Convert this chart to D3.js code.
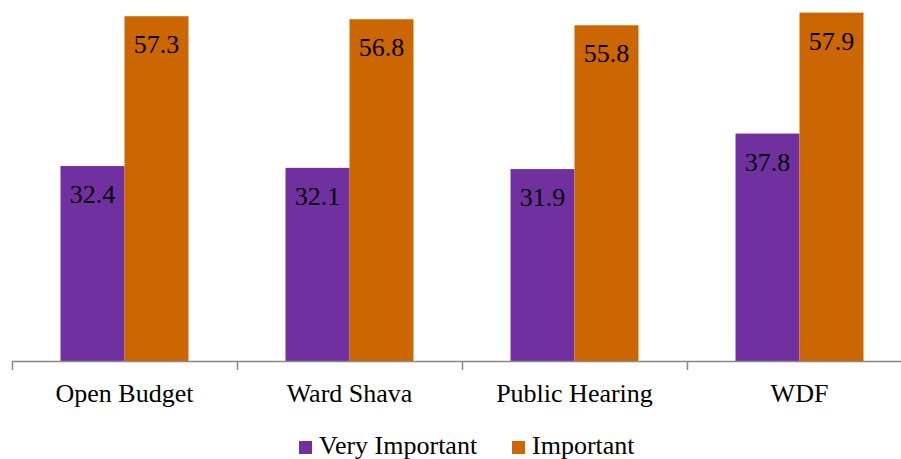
<!DOCTYPE html>
<html>
<head>
<meta charset="utf-8">
<script src="https://cdn.jsdelivr.net/npm/d3@7"></script>
</head>
<body style="margin:0">
<div id="chart"></div>
<script>
const categories = ["Open Budget", "Ward Shava", "Public Hearing", "WDF"];
const seriesNames = ["Very Important", "Important"];
const veryImportant = [32.4, 32.1, 31.9, 37.8];
const important = [57.3, 56.8, 55.8, 57.9];
const colors = ["#7030A0", "#CC6600"];

const width = 901;
const height = 459;
const baseY = 361;
const fontSize = 26;
const fontFam = "\"Times New Roman\"";

const svg = d3.select("#chart")
  .append("svg")
  .attr("width", width)
  .attr("height", height)
  .style("font-family", fontFam);

const x0 = d3.scaleBand().domain(categories).range([12, 912]);
const x1 = d3.scaleBand().domain(seriesNames).range([0, x0.bandwidth()]).paddingOuter(0.758);
const y = d3.scaleLinear().domain([0, 60]).range([baseY, 0]);

const rows = categories.map((c, i) => ({
  cat: c,
  vals: [
    { name: seriesNames[0], v: veryImportant[i], color: colors[0] },
    { name: seriesNames[1], v: important[i], color: colors[1] }
  ]
}));

const groups = svg.selectAll("g.group")
  .data(rows)
  .enter()
  .append("g")
  .attr("class", "group")
  .attr("transform", (d) => "translate(" + x0(d.cat) + ",0)");

groups.selectAll("rect")
  .data((d) => d.vals)
  .enter()
  .append("rect")
  .attr("x", (d) => x1(d.name))
  .attr("y", (d) => y(d.v))
  .attr("width", x1.bandwidth())
  .attr("height", (d) => baseY - y(d.v))
  .attr("fill", (d) => d.color);

groups.selectAll("text.value")
  .data((d) => d.vals)
  .enter()
  .append("text")
  .attr("class", "value")
  .attr("x", (d) => x1(d.name) + x1.bandwidth() / 2)
  .attr("y", (d) => y(d.v) + 37)
  .attr("text-anchor", "middle")
  .attr("font-size", fontSize)
  .style("font-family", fontFam)
  .text((d) => d.v.toFixed(1));

// category axis
const xAxis = d3.axisBottom(x0).tickSize(0).tickFormat("");
const axisG = svg.append("g")
  .attr("transform", "translate(0," + baseY + ")")
  .call(xAxis);
axisG.select(".domain").attr("stroke", "#898989").attr("stroke-width", 1.5).attr("d", "M12,0.5H901");

const boundaries = d3.range(categories.length + 1).map((i) => x0.range()[0] + i * x0.step());
axisG.selectAll("line.sep")
  .data(boundaries)
  .enter()
  .append("line")
  .attr("class", "sep")
  .attr("x1", (d) => d + 0.5)
  .attr("x2", (d) => d + 0.5)
  .attr("y1", 0)
  .attr("y2", 9)
  .attr("stroke", "#898989")
  .attr("stroke-width", 1.5);

svg.selectAll("text.cat")
  .data(categories)
  .enter()
  .append("text")
  .attr("class", "cat")
  .attr("x", (d) => x0(d) + x0.bandwidth() / 2)
  .attr("y", 402)
  .attr("text-anchor", "middle")
  .attr("font-size", fontSize)
  .style("font-family", fontFam)
  .text((d) => d);

// legend
const legendItems = [
  { name: seriesNames[0], color: colors[0], x: 299 },
  { name: seriesNames[1], color: colors[1], x: 512 }
];
const legend = svg.selectAll("g.legend")
  .data(legendItems)
  .enter()
  .append("g")
  .attr("class", "legend")
  .attr("transform", (d) => "translate(" + d.x + ",441)");

legend.append("rect")
  .attr("width", 13)
  .attr("height", 13)
  .attr("fill", (d) => d.color);

legend.append("text")
  .attr("x", 20)
  .attr("y", 13)
  .attr("font-size", fontSize)
  .style("font-family", fontFam)
  .text((d) => d.name);
</script>
</body>
</html>
